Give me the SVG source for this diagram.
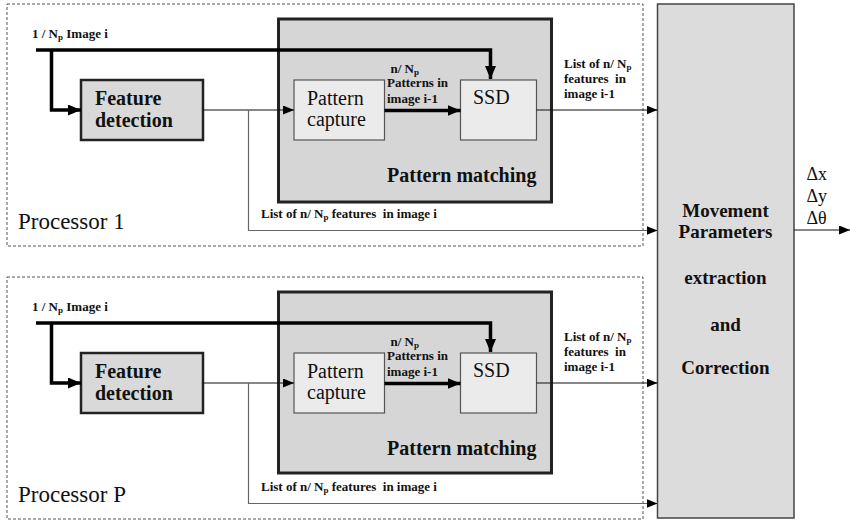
<svg xmlns="http://www.w3.org/2000/svg" width="850" height="522" viewBox="0 0 850 522">
<style>
  text { font-family: 'Liberation Serif', 'DejaVu Serif', serif; fill: #111; }
  .lbl { font-size: 13px; font-weight: bold; }
  .sub { font-size: 9px; }
  .big { font-size: 20px; }
  .bigb { font-size: 20px; font-weight: bold; }
  .proc { font-size: 23px; }
  .dash { fill: none; stroke: #555; stroke-width: 1; stroke-dasharray: 3 2; }
  .feat { fill: #d9d9d9; stroke: #222; stroke-width: 2.5; }
  .pm { fill: #d6d6d6; stroke: #222; stroke-width: 3; }
  .inner { fill: #ebebeb; stroke: #555; stroke-width: 1.2; }
  .main { fill: #dcdcdc; stroke: #444; stroke-width: 1.5; }
  .thick { fill: none; stroke: #000; stroke-width: 3.5; }
  .thin { fill: none; stroke: #111; stroke-width: 1.2; }
  .gray { fill: none; stroke: #666; stroke-width: 1.2; }
</style>
<defs>
  <marker id="ah" markerUnits="userSpaceOnUse" markerWidth="11" markerHeight="9" refX="11" refY="4.5" orient="auto">
    <path d="M0,0 L11,4.5 L0,9 z" fill="#000"/>
  </marker>
  <marker id="ahT" markerUnits="userSpaceOnUse" markerWidth="13" markerHeight="11" refX="13" refY="5.5" orient="auto">
    <path d="M0,0 L13,5.5 L0,11 z" fill="#000"/>
  </marker>
</defs>

<!-- Processor 1 -->
<g id="processor1">
  <rect class="dash" x="7" y="4" width="636" height="242"/>
  <text class="proc" x="18" y="229" font-family="Liberation Serif, serif">Processor 1</text>
</g>
<g id="patternmatching1">
  <rect class="pm" x="278.5" y="19" width="273" height="183"/>
  <text class="bigb" x="387" y="182">Pattern matching</text>
</g>
<g id="featuredetection1">
  <rect class="feat" x="81" y="80" width="122" height="60"/>
  <text class="bigb" x="95" y="105">Feature</text>
  <text class="bigb" x="95" y="127">detection</text>
</g>
<g id="patterncapture1">
  <rect class="inner" x="294" y="80" width="90.5" height="60"/>
  <text class="big" x="307" y="105">Pattern</text>
  <text class="big" x="307" y="126">capture</text>
</g>
<g id="ssd1">
  <rect class="inner" x="460.5" y="80" width="76" height="60"/>
  <text class="big" x="473" y="104">SSD</text>
</g>

<!-- Processor P -->
<g id="processorP">
  <rect class="dash" x="7" y="277" width="636" height="242"/>
  <text class="proc" x="18" y="502">Processor P</text>
</g>
<g id="patternmatchingP">
  <rect class="pm" x="278.5" y="292" width="273" height="181"/>
  <text class="bigb" x="387" y="455">Pattern matching</text>
</g>
<g id="featuredetectionP">
  <rect class="feat" x="81" y="353" width="122" height="60"/>
  <text class="bigb" x="95" y="378">Feature</text>
  <text class="bigb" x="95" y="400">detection</text>
</g>
<g id="patterncaptureP">
  <rect class="inner" x="294" y="353" width="90.5" height="60"/>
  <text class="big" x="307" y="378">Pattern</text>
  <text class="big" x="307" y="399">capture</text>
</g>
<g id="ssdP">
  <rect class="inner" x="460.5" y="353" width="76" height="60"/>
  <text class="big" x="473" y="377">SSD</text>
</g>

<!-- Main block -->
<g id="movement">
  <rect class="main" x="657.5" y="4" width="136.5" height="514"/>
  <text class="bigb" x="725.5" y="216.5" text-anchor="middle" style="font-size:19px">Movement</text>
  <text class="bigb" x="725.5" y="237.5" text-anchor="middle" style="font-size:19px">Parameters</text>
  <text class="bigb" x="725.5" y="284" text-anchor="middle" style="font-size:19px">extraction</text>
  <text class="bigb" x="725.5" y="331" text-anchor="middle" style="font-size:19px">and</text>
  <text class="bigb" x="725.5" y="374" text-anchor="middle" style="font-size:19px">Correction</text>
</g>

<!-- Connectors -->
<g id="connectors">
  <path class="thick" d="M36,50 H490.5 V79" marker-end="url(#ahT)"/>
  <path class="thick" d="M51.5,50 V110 H81" marker-end="url(#ahT)"/>
  <path class="thin" d="M203,110 H294" marker-end="url(#ah)"/>
  <path class="thick" d="M384.5,110.5 H460.5" marker-end="url(#ahT)"/>
  <path class="thin" d="M536.5,110 H657.5" marker-end="url(#ah)"/>
  <path class="gray" d="M248.5,110 V230.5 H657.5" marker-end="url(#ah)"/>
  <path class="thick" d="M36,323 H490.5 V352" marker-end="url(#ahT)"/>
  <path class="thick" d="M51.5,323 V383 H81" marker-end="url(#ahT)"/>
  <path class="thin" d="M203,383 H294" marker-end="url(#ah)"/>
  <path class="thick" d="M384.5,383.5 H460.5" marker-end="url(#ahT)"/>
  <path class="thin" d="M536.5,383 H657.5" marker-end="url(#ah)"/>
  <path class="gray" d="M248.5,383 V503.5 H657.5" marker-end="url(#ah)"/>
  <path class="thin" d="M794,230 H850" marker-end="url(#ah)"/>
</g>

<g id="labels1">
  <text class="lbl" x="32" y="38">1 / N<tspan class="sub" dy="2">p</tspan><tspan dy="-2"> Image i</tspan></text>
  <text class="lbl" x="390.5" y="72.5">n/ N<tspan class="sub" dy="2">p</tspan></text>
  <text class="lbl" x="387" y="87">Patterns in</text>
  <text class="lbl" x="387" y="102.5">image i-1</text>
  <text class="lbl" x="564" y="68">List of n/ N<tspan class="sub" dy="2">p</tspan></text>
  <text class="lbl" x="564" y="82.5" xml:space="preserve">features  in</text>
  <text class="lbl" x="564" y="97.5">image i-1</text>
  <text class="lbl" x="261" y="217.5" xml:space="preserve">List of n/ N<tspan class="sub" dy="2">p</tspan><tspan dy="-2"> features  in image i</tspan></text>
</g>
<g id="labelsP">
  <text class="lbl" x="32" y="311">1 / N<tspan class="sub" dy="2">p</tspan><tspan dy="-2"> Image i</tspan></text>
  <text class="lbl" x="390.5" y="345.5">n/ N<tspan class="sub" dy="2">p</tspan></text>
  <text class="lbl" x="387" y="360">Patterns in</text>
  <text class="lbl" x="387" y="375.5">image i-1</text>
  <text class="lbl" x="564" y="341">List of n/ N<tspan class="sub" dy="2">p</tspan></text>
  <text class="lbl" x="564" y="355.5" xml:space="preserve">features  in</text>
  <text class="lbl" x="564" y="370.5">image i-1</text>
  <text class="lbl" x="261" y="490.5" xml:space="preserve">List of n/ N<tspan class="sub" dy="2">p</tspan><tspan dy="-2"> features  in image i</tspan></text>
</g>
<g id="outputs">
  <text class="big" x="806.5" y="180" style="font-size:18px">Δx</text>
  <text class="big" x="806.5" y="202" style="font-size:18px">Δy</text>
  <text class="big" x="806.5" y="224" style="font-size:18px">Δθ</text>
</g>
</svg>
